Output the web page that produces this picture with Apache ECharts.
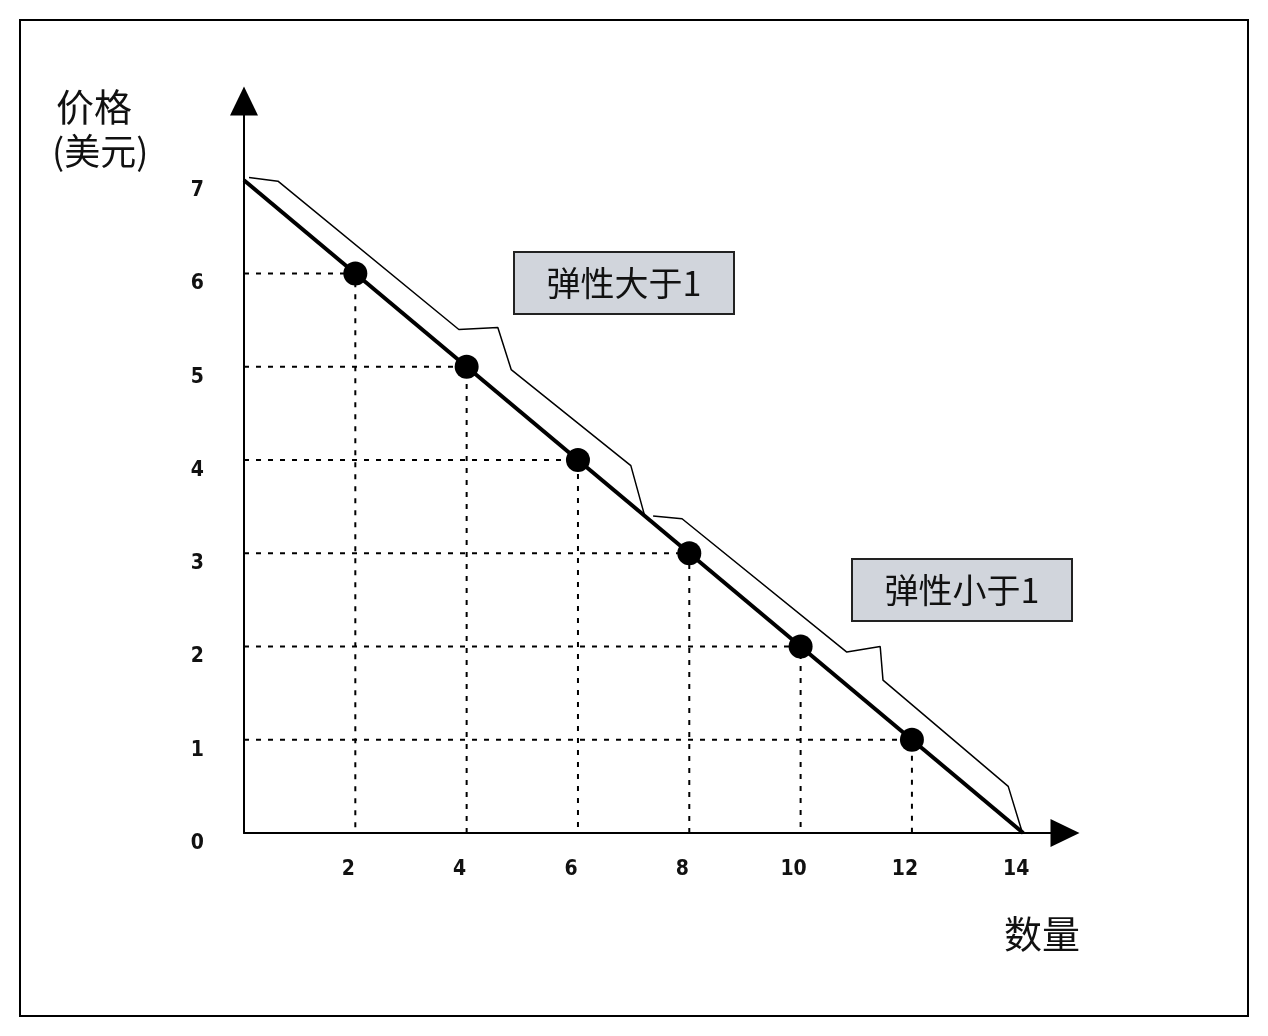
<!DOCTYPE html>
<html><head><meta charset="utf-8">
<script src="https://cdn.jsdelivr.net/npm/echarts@6/dist/echarts.min.js"></script>
<style>html,body{margin:0;padding:0;background:#fff}#c{width:1268px;height:1036px}</style>
</head><body><div id="c"></div>
<script>
// Demand line endpoints (quantity, price)
const demandX = [0, 14];
const demandY = [7, 0];
// Marked points on the demand curve
const pointX = [2, 4, 6, 8, 10, 12];
const pointY = [6, 5, 4, 3, 2, 1];
// Tick labels
const xTicks = [2, 4, 6, 8, 10, 12, 14];
const yTicks = [0, 1, 2, 3, 4, 5, 6, 7];
// Bracket outline over the elastic segment
const elasticX = [0.09, 0.61, 3.86, 4.56, 4.80, 6.95, 7.19];
const elasticY = [7.03, 6.99, 5.40, 5.42, 4.97, 3.94, 3.42];
// Bracket outline over the inelastic segment
const inelasticX = [7.35, 7.87, 10.83, 11.43, 11.48, 13.73, 13.98];
const inelasticY = [3.40, 3.37, 1.94, 2.00, 1.64, 0.50, 0.01];
// Texts
const yName = ['价格', '(美元)'];
const xName = '数量';
const boxLabels = ['弹性大于1', '弹性小于1'];

const zip = (xs, ys) => xs.map((x, i) => [x, ys[i]]);
const guides = [];
pointX.forEach((x, i) => {
  guides.push([0, pointY[i]], [x, pointY[i]], [x, 0], '-');
});

const numFont = {fontFamily: 'DejaVu Sans Condensed, DejaVu Sans', fontWeight: 'bold', fontSize: 21, color: '#111'};
const cjk = 'Noto Sans CJK SC';

const chart = echarts.init(document.getElementById('c'), null, {renderer: 'canvas'});
chart.setOption({
  animation: false,
  backgroundColor: '#fff',
  grid: {left: 244, right: 203, top: 101, bottom: 203},
  xAxis: {
    type: 'value', min: 0, max: 14.75, interval: 2,
    axisLine: {onZero: false, lineStyle: {color: '#000', width: 2}, symbol: ['none', 'triangle'], symbolSize: [28, 29]},
    axisTick: {show: false}, splitLine: {show: false},
    axisLabel: Object.assign({margin: 26, padding: [0, 14, 0, 0],
      formatter: v => xTicks.includes(v) ? String(v) : ''}, numFont)
  },
  yAxis: {
    type: 'value', min: 0, max: 7.85, interval: 1,
    axisLine: {onZero: false, lineStyle: {color: '#000', width: 2}, symbol: ['none', 'triangle'], symbolSize: [28, 29]},
    axisTick: {show: false}, splitLine: {show: false},
    axisLabel: Object.assign({margin: 40, verticalAlign: 'top',
      formatter: v => yTicks.includes(v) ? String(v) : ''}, numFont)
  },
  series: [
    {type: 'line', data: guides, symbol: 'none', connectNulls: false, z: 1,
      lineStyle: {color: '#000', width: 2, type: [5, 7]}},
    {type: 'line', data: zip(elasticX, elasticY), symbol: 'none', z: 2,
      lineStyle: {color: '#000', width: 1.5}},
    {type: 'line', data: zip(inelasticX, inelasticY), symbol: 'none', z: 2,
      lineStyle: {color: '#000', width: 1.5}},
    {type: 'line', data: zip(demandX, demandY), symbol: 'none', z: 3,
      lineStyle: {color: '#000', width: 4}},
    {type: 'scatter', data: zip(pointX, pointY), symbol: 'circle', symbolSize: 24, z: 4,
      itemStyle: {color: '#000', opacity: 1}}
  ],
  graphic: [
    {type: 'rect', shape: {x: 20, y: 20, width: 1228, height: 996}, style: {fill: 'none', stroke: '#000', lineWidth: 2}, silent: true},
    {type: 'text', left: 56, top: 88, style: {text: yName[0], font: '38px "' + cjk + '"', fill: '#111'}},
    {type: 'text', left: 52, top: 133, style: {text: yName[1], font: '36px "' + cjk + '"', fill: '#111'}},
    {type: 'text', left: 1004, top: 915, style: {text: xName, font: '38px "' + cjk + '"', fill: '#111'}},
    {type: 'group', left: 513, top: 251, children: [
      {type: 'rect', shape: {x: 0, y: 0, width: 220, height: 62}, style: {fill: '#d1d5dc', stroke: '#222', lineWidth: 2}},
      {type: 'text', x: 110, y: 31, style: {text: boxLabels[0], font: '34px "' + cjk + '"', fill: '#111', align: 'center', verticalAlign: 'middle'}}
    ]},
    {type: 'group', left: 851, top: 558, children: [
      {type: 'rect', shape: {x: 0, y: 0, width: 220, height: 62}, style: {fill: '#d1d5dc', stroke: '#222', lineWidth: 2}},
      {type: 'text', x: 110, y: 31, style: {text: boxLabels[1], font: '34px "' + cjk + '"', fill: '#111', align: 'center', verticalAlign: 'middle'}}
    ]}
  ]
});
</script>
</body></html>
